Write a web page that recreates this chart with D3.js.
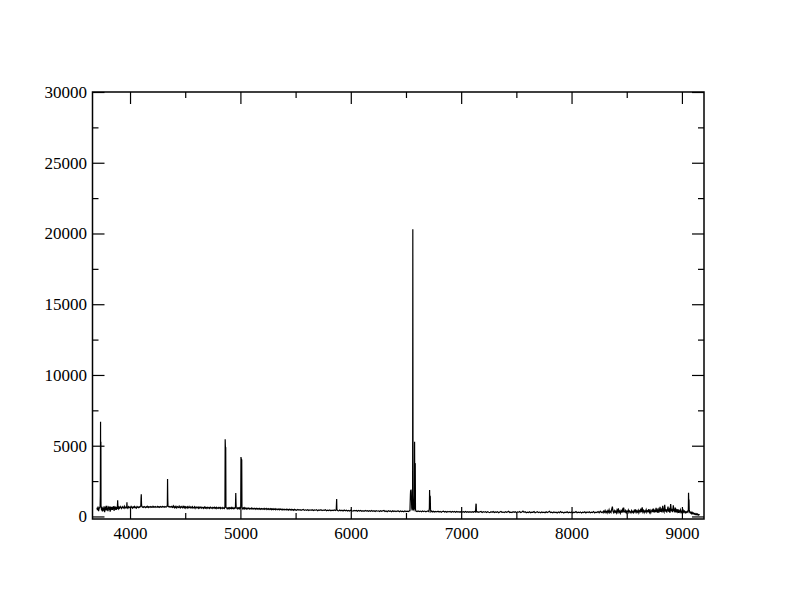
<!DOCTYPE html>
<html>
<head>
<meta charset="utf-8">
<script src="https://cdn.jsdelivr.net/npm/d3@7"></script>
<style>
  html, body { margin: 0; padding: 0; background: #fff; }
  svg { display: block; }
  svg text { font-family: "Liberation Serif", "DejaVu Serif", serif !important; font-size: 17px !important; fill: #000; }
</style>
</head>
<body>
<svg id="chart" width="792" height="612"></svg>
<script>
// ---- data (wavelength [Å], flux) ----
const spectrum = [
[3700,620],[3705,450],[3710,700],[3715,380],[3720,560],[3725,640],[3729,700],[3731,1500],[3733,6700],[3734,900],[3735,5250],[3736,5280],[3737,800],[3739,600],
[3742,420],[3746,680],[3750,350],[3755,610],[3760,500],[3765,720],[3770,300],[3775,580],[3780,660],[3785,420],[3790,750],[3795,510],[3800,380],[3805,640],
[3810,560],[3815,700],[3820,330],[3825,610],[3830,540],[3835,680],[3840,460],[3845,590],[3850,720],[3855,400],[3860,630],[3865,550],[3870,690],[3875,470],
[3880,610],[3885,580],[3888,1150],[3891,620],[3895,540],[3900,660],[3906,580],[3912,700],[3918,620],[3924,560],[3930,690],[3936,640],[3942,600],[3948,720],
[3954,580],[3960,650],[3966,610],[3970,700],[3972,1000],[3974,640],[3980,580],[3986,690],[3992,620],[3998,660],[4004,600],[4010,710],[4016,640],[4022,590],
[4028,680],[4034,630],[4040,700],[4046,610],[4052,660],[4058,590],[4064,700],[4070,650],[4076,620],[4082,690],[4088,640],[4094,700],[4098,800],[4100,1300],
[4102,1570],[4104,900],[4106,720],[4112,650],[4118,680],[4124,640],[4130,700],[4136,660],[4142,620],[4148,690],[4154,650],[4160,710],[4166,630],[4172,680],
[4178,660],[4184,700],[4190,640],[4196,680],[4202,650],[4208,720],[4214,660],[4220,690],[4226,640],[4232,700],[4238,670],[4244,650],[4250,710],[4256,660],
[4262,690],[4268,640],[4274,700],[4280,680],[4286,650],[4292,710],[4298,670],[4304,690],[4310,650],[4316,700],[4322,680],[4328,660],[4334,720],[4338,800],
[4340,2650],[4342,1200],[4344,720],[4350,680],[4356,700],[4362,650],[4368,690],[4374,670],[4380,720],[4385,630],[4390,650],[4395,740],[4400,660],[4405,610],
[4410,700],[4415,640],[4420,600],[4425,710],[4430,690],[4435,620],[4440,650],[4445,730],[4450,640],[4455,600],[4460,690],[4465,660],[4470,710],[4475,610],
[4480,640],[4485,700],[4490,620],[4495,680],[4500,600],[4505,690],[4510,650],[4515,610],[4520,680],[4525,590],[4530,640],[4535,700],[4540,620],[4545,600],
[4550,670],[4555,610],[4560,650],[4565,690],[4570,590],[4575,640],[4580,620],[4585,680],[4590,580],[4595,650],[4600,670],[4605,600],[4610,620],[4615,660],
[4620,580],[4625,650],[4630,600],[4635,670],[4640,620],[4645,580],[4650,650],[4655,610],[4660,640],[4665,570],[4670,620],[4675,660],[4680,590],[4685,640],
[4690,570],[4695,630],[4700,650],[4705,580],[4710,610],[4715,640],[4720,570],[4725,620],[4730,650],[4735,580],[4740,600],[4745,640],[4750,570],[4755,630],
[4760,600],[4765,650],[4770,580],[4775,620],[4780,560],[4785,640],[4790,600],[4795,580],[4800,630],[4805,570],[4810,610],[4815,640],[4820,560],[4825,620],
[4830,590],[4835,560],[4840,630],[4845,580],[4850,600],[4855,560],
[4858,620],[4860,700],[4862,5450],[4864,4900],[4867,4880],[4869,640],[4876,600],[4880,540],[4884,590],[4888,620],[4892,560],[4896,600],[4900,620],[4904,550],
[4908,600],[4912,580],[4916,630],[4920,560],[4924,600],[4928,570],[4932,620],[4936,550],[4940,590],[4944,610],[4948,560],[4952,600],
[4955,620],[4958,1660],[4960,1000],[4962,600],[4968,580],[4972,540],[4976,610],[4980,570],[4984,600],[4988,550],[4992,610],[4996,560],[5000,590],[5003,700],[5005,4200],[5008,4050],
[5012,4000],[5014,650],[5018,580],[5022,530],[5026,590],[5030,560],[5034,610],[5038,540],[5042,590],[5046,560],[5050,600],[5055,530],[5060,570],[5065,540],
[5070,600],[5075,550],[5080,520],[5085,580],[5090,560],[5095,530],[5100,590],[5105,540],[5110,570],[5115,520],[5120,560],[5125,580],[5130,530],[5135,560],
[5140,510],[5145,570],[5150,540],[5155,560],[5160,510],[5165,550],[5170,580],[5175,520],[5180,540],[5185,500],[5190,560],[5195,530],[5200,550],[5205,500],
[5210,540],[5215,570],[5220,500],[5225,540],[5230,520],[5235,560],[5240,490],[5245,540],[5250,510],[5255,550],[5260,490],[5265,530],[5270,510],[5275,550],
[5280,480],[5285,530],[5290,500],[5295,540],[5300,480],[5305,520],[5310,500],[5315,540],[5320,470],[5325,510],[5330,530],[5335,480],[5340,510],[5345,490],
[5350,530],[5355,470],[5360,500],[5365,520],[5370,480],[5375,510],[5380,470],[5385,520],[5390,490],[5395,460],[5400,510],[5405,480],[5410,500],[5415,460],
[5420,510],[5425,470],[5430,500],[5435,450],[5440,490],[5445,510],[5450,460],[5455,490],[5460,450],[5465,500],[5470,470],[5475,490],[5480,440],[5485,480],
[5490,500],[5495,450],[5500,480],[5510,440],[5520,490],[5530,450],[5540,480],[5550,430],[5560,470],[5570,490],[5580,430],[5590,470],[5600,440],[5610,480],
[5620,420],[5630,470],[5640,440],[5650,480],[5660,420],[5670,460],[5680,440],[5690,470],[5700,410],[5710,460],[5720,430],[5730,470],[5740,410],[5750,450],
[5760,430],[5770,470],[5780,400],[5790,450],[5800,420],[5810,460],[5820,400],[5830,450],[5840,420],[5850,460],[5860,420],[5868,460],[5872,1230],[5874,500],
[5880,420],[5890,390],[5900,450],[5910,400],[5920,440],[5930,390],[5940,450],[5950,400],[5960,440],[5970,380],[5980,430],[5990,390],[6000,440],[6010,400],
[6020,380],[6030,430],[6040,390],[6050,420],[6060,370],[6070,430],[6080,380],[6090,420],[6100,370],[6110,410],[6120,360],[6130,420],[6140,380],[6150,410],
[6160,360],[6170,410],[6180,370],[6190,420],[6200,360],[6210,400],[6220,350],[6230,410],[6240,370],[6250,400],[6260,350],[6270,410],[6280,360],[6290,400],
[6300,420],[6310,350],[6320,390],[6330,340],[6340,400],[6350,360],[6360,390],[6370,340],[6380,400],[6390,350],[6400,390],[6410,340],[6420,380],[6430,400],
[6440,340],[6450,390],[6460,350],[6470,380],[6480,330],[6490,390],[6500,350],[6510,380],[6520,340],[6530,390],[6536,400],[6540,1500],[6542,1850],[6544,1300],
[6546,1900],[6548,1700],[6550,1200],[6552,600],[6556,420],[6560,800],
[6562,20300],[6564,1500],[6568,500],[6572,450],[6576,600],[6578,5280],[6580,1000],[6582,3760],[6584,3700],[6586,500],[6590,380],[6600,350],[6610,390],
[6620,340],[6630,380],[6640,330],[6650,390],[6660,340],[6670,380],[6680,330],[6690,370],[6700,390],[6708,340],[6712,600],[6714,1870],[6716,900],[6718,1450],
[6720,1400],[6722,500],[6726,330],[6734,380],[6742,320],[6750,370],[6760,310],[6770,360],[6780,320],[6790,370],[6800,310],[6810,360],[6820,300],[6830,350],
[6840,370],[6850,310],[6860,350],[6870,300],[6880,360],[6890,320],[6900,350],[6910,300],[6920,360],[6930,310],[6940,350],[6950,290],[6960,350],[6970,310],
[6980,340],[6990,290],[7000,350],[7010,310],[7020,340],[7030,290],[7040,350],[7050,300],[7060,340],[7070,290],[7080,340],[7090,300],[7100,340],[7110,290],
[7120,350],[7130,310],[7134,850],[7136,900],[7138,360],[7144,300],[7150,340],[7160,290],[7170,330],[7180,350],[7190,280],[7200,330],[7210,300],[7220,340],
[7230,280],[7240,340],[7250,300],[7260,270],[7270,330],[7280,300],[7290,350],[7300,280],[7310,320],[7320,290],[7330,340],[7340,270],[7350,320],[7360,350],
[7370,290],[7380,310],[7390,270],[7400,340],[7410,290],[7420,320],[7430,360],[7440,280],[7450,310],[7460,270],[7470,330],[7480,290],[7490,340],[7500,270],
[7510,320],[7520,300],[7530,350],[7540,270],[7550,310],[7560,380],[7570,290],[7580,330],[7590,260],[7600,310],[7610,280],[7620,330],[7630,260],[7640,310],
[7650,290],[7660,340],[7670,260],[7680,300],[7690,330],[7700,270],[7710,310],[7720,260],[7730,320],[7740,280],[7750,300],[7760,260],[7770,330],[7780,280],
[7790,310],[7800,360],[7810,270],[7820,300],[7830,260],[7840,320],[7850,280],[7860,300],[7870,250],[7880,320],[7890,270],[7900,340],[7910,280],[7920,300],
[7930,250],[7940,310],[7950,280],[7960,330],[7970,260],[7980,300],[7990,270],[8000,320],[8010,250],[8020,300],[8030,280],[8040,340],[8050,260],[8060,300],
[8070,270],[8080,320],[8090,240],[8100,300],[8110,280],[8120,330],[8130,250],[8140,310],[8150,270],[8160,330],[8170,260],[8180,300],[8190,280],[8200,350],
[8210,250],[8220,310],[8230,280],[8240,340],[8250,260],[8260,370],[8270,280],[8280,320],[8286,260],
[8292,380],[8298,300],[8304,420],[8310,280],[8316,350],[8322,240],[8328,400],[8334,310],[8340,470],[8346,270],[8352,360],[8358,290],[8364,520],[8370,700],
[8376,340],[8382,260],[8388,410],[8394,300],[8400,380],[8406,250],[8412,450],[8418,320],[8424,580],[8430,290],[8436,370],[8442,230],[8448,400],[8454,330],
[8460,480],[8466,270],[8472,620],[8478,350],[8484,300],[8490,420],[8496,260],[8502,370],[8508,310],[8514,450],[8520,280],[8526,390],[8532,320],[8538,250],
[8544,410],[8550,300],[8556,360],[8562,270],[8568,430],[8574,330],[8580,500],[8586,280],[8592,380],[8598,310],[8604,440],[8610,260],[8616,400],[8622,340],
[8628,560],[8634,300],[8640,650],[8646,320],[8652,420],[8658,270],[8664,390],[8670,330],[8676,480],[8682,290],[8688,400],[8694,350],[8700,520],[8706,300],
[8712,430],[8718,260],[8724,380],[8730,460],[8736,310],[8742,550],[8748,280],[8754,420],[8760,360],[8766,600],[8772,300],[8778,450],[8784,250],[8790,500],
[8796,380],[8802,680],[8808,320],[8814,470],[8820,290],[8826,750],[8832,400],[8838,310],[8844,820],[8850,350],[8856,520],[8862,280],[8868,430],[8874,700],
[8880,330],[8886,480],[8892,260],[8898,880],[8904,370],[8910,540],[8916,300],[8922,780],[8928,420],[8934,350],[8940,620],[8946,280],[8952,450],[8958,330],
[8964,520],[8970,260],[8976,400],[8982,310],[8988,470],[8994,280],[9000,360],[9006,240],[9012,420],[9018,300],[9024,380],[9030,250],[9036,330],[9042,280],
[9048,360],[9054,300],[9058,400],[9060,1680],[9062,900],[9064,1200],[9066,500],[9070,300],[9076,250],[9082,320],[9088,200],[9094,280],[9100,180],[9106,240],
[9112,160],[9118,210],[9124,140],[9130,190],[9136,120],[9142,170],[9148,100],[9154,140],[9160,90]
];

const xMajorTicks = [4000, 5000, 6000, 7000, 8000, 9000];
const xMinorTicks = [4500, 5500, 6500, 7500, 8500];
const yMajorTicks = [0, 5000, 10000, 15000, 20000, 25000, 30000];
const yMinorTicks = [2500, 7500, 12500, 17500, 22500, 27500];
const xDomain = [3660, 9200];
const yDomain = [-180, 30000];

// ---- layout ----
const svg = d3.select("#chart");
const L = 92.5, R = 704, T = 92, B = 519;

const x = d3.scaleLinear().domain(xDomain).range([L, R]);
const y = d3.scaleLinear().domain(yDomain).range([B, T]);

svg.append("clipPath").attr("id", "plotclip")
  .append("rect").attr("x", L).attr("y", T).attr("width", R - L).attr("height", B - T);

// data line
const line = d3.line().x(d => x(d[0])).y(d => y(d[1]));
svg.append("path")
  .datum(spectrum)
  .attr("clip-path", "url(#plotclip)")
  .attr("fill", "none")
  .attr("stroke", "#000")
  .attr("stroke-width", 1.2)
  .attr("d", line);

function styleAxis(g) {
  g.attr("font-family", null).attr("font-size", null);
  g.select(".domain").remove();
  g.selectAll(".tick line").attr("stroke", "#000").attr("stroke-width", 1.2);
  g.selectAll(".tick text").attr("fill", "#000");
}

// bottom axis
svg.append("g").attr("transform", `translate(0,${B})`)
  .call(d3.axisBottom(x).tickValues(xMajorTicks).tickSize(-12).tickPadding(7.5).tickFormat(d3.format("d")))
  .call(styleAxis);
svg.append("g").attr("transform", `translate(0,${B})`)
  .call(d3.axisBottom(x).tickValues(xMinorTicks).tickSize(-6).tickFormat(""))
  .call(styleAxis);
// top axis
svg.append("g").attr("transform", `translate(0,${T})`)
  .call(d3.axisTop(x).tickValues(xMajorTicks).tickSize(-12).tickFormat(""))
  .call(styleAxis);
svg.append("g").attr("transform", `translate(0,${T})`)
  .call(d3.axisTop(x).tickValues(xMinorTicks).tickSize(-6).tickFormat(""))
  .call(styleAxis);
// left axis
svg.append("g").attr("transform", `translate(${L},0)`)
  .call(d3.axisLeft(y).tickValues(yMajorTicks).tickSize(-12).tickPadding(5.5).tickFormat(d3.format("d")))
  .call(styleAxis);
svg.append("g").attr("transform", `translate(${L},0)`)
  .call(d3.axisLeft(y).tickValues(yMinorTicks).tickSize(-6).tickFormat(""))
  .call(styleAxis);
// right axis
svg.append("g").attr("transform", `translate(${R},0)`)
  .call(d3.axisRight(y).tickValues(yMajorTicks).tickSize(-12).tickFormat(""))
  .call(styleAxis);
svg.append("g").attr("transform", `translate(${R},0)`)
  .call(d3.axisRight(y).tickValues(yMinorTicks).tickSize(-6).tickFormat(""))
  .call(styleAxis);

// frame
svg.append("rect")
  .attr("x", L).attr("y", T).attr("width", R - L).attr("height", B - T)
  .attr("fill", "none").attr("stroke", "#000").attr("stroke-width", 1.5);
</script>
</body>
</html>
